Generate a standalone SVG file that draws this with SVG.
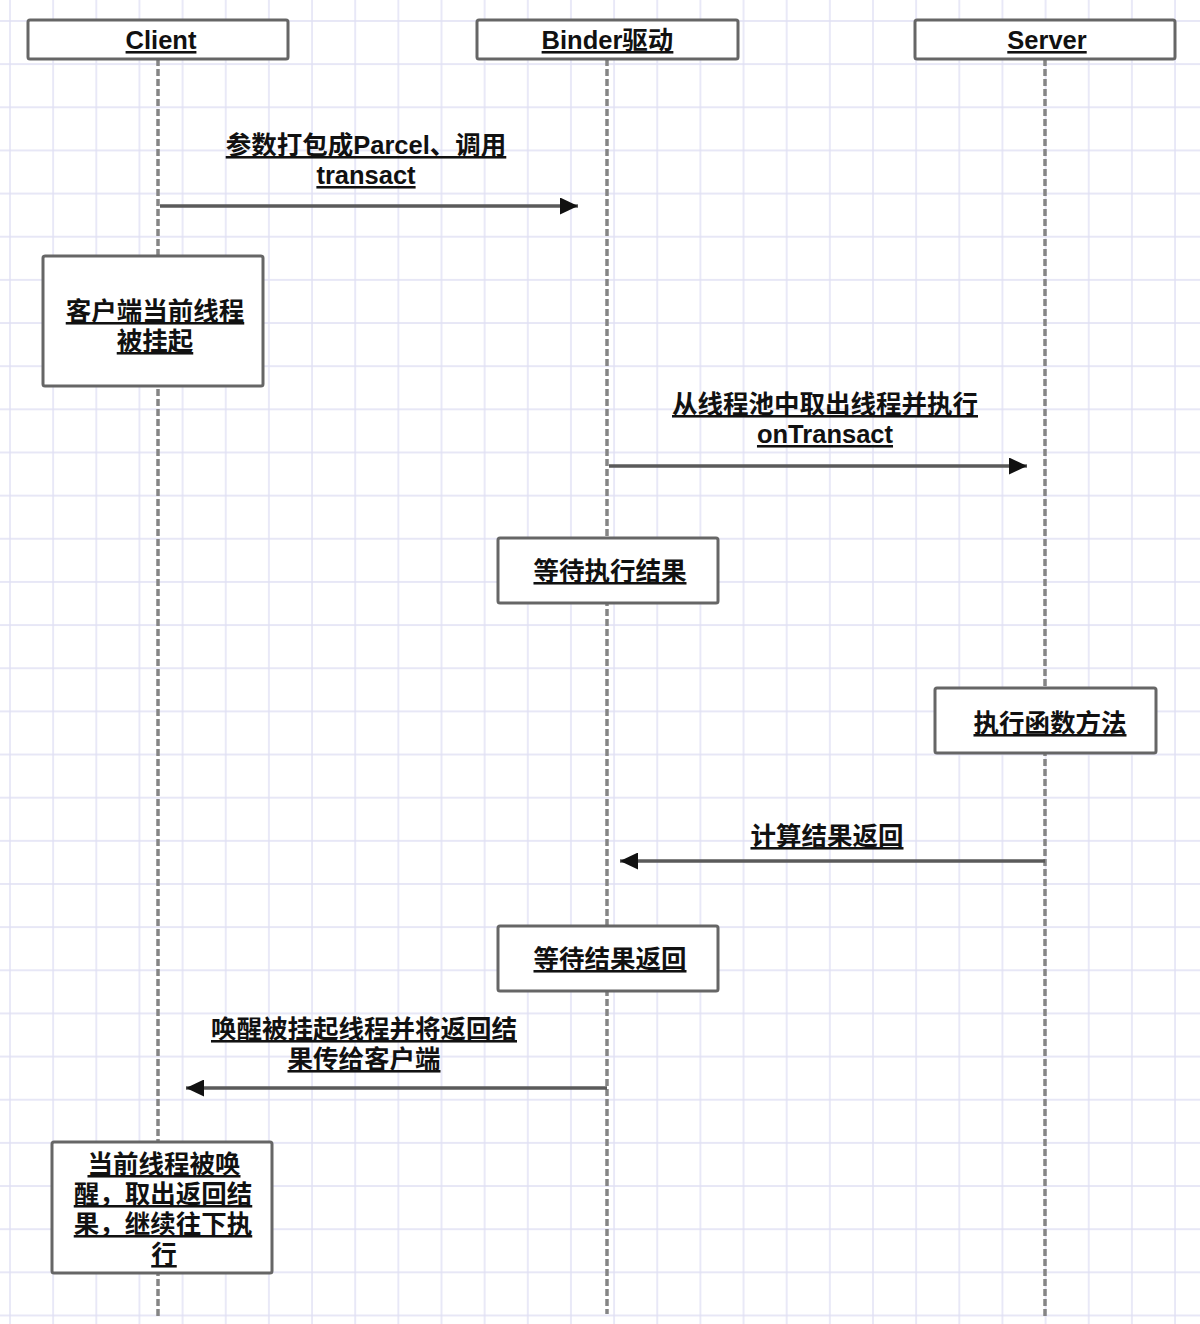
<svg xmlns="http://www.w3.org/2000/svg" width="1200" height="1324" viewBox="0 0 1200 1324">
<style>
.t{font-family:"Liberation Sans","Noto Sans CJK SC",sans-serif;font-weight:bold;font-size:25.5px;fill:#111;text-anchor:middle;text-decoration:underline;}
.box{fill:#fff;stroke:#666;stroke-width:3;}
.life{stroke:#858585;stroke-width:3.5;stroke-dasharray:7 3;fill:none;}
.msg{stroke:#5a5a5a;stroke-width:3.5;fill:none;marker-end:url(#ah);}
</style>
<defs>
<pattern id="grid" patternUnits="userSpaceOnUse" x="9" y="20" width="43.15" height="43.15">
<path d="M1 0V43.15M0 1H43.15" stroke="#e0e0f4" stroke-width="1.4" fill="none"/>
</pattern>
<marker id="ah" markerUnits="userSpaceOnUse" viewBox="0 0 18 17" refX="18" refY="8.5" markerWidth="18" markerHeight="17" orient="auto">
<path d="M0 0L18 8.5L0 17z" fill="#111"/>
</marker>
</defs>
<rect x="0" y="0" width="1200" height="1324" fill="#fff"/>
<rect x="0" y="0" width="1200" height="1324" fill="url(#grid)"/>

<g id="lifelines">
<line class="life" x1="158" y1="59" x2="158" y2="1316"/>
<line class="life" x1="607" y1="59" x2="607" y2="1314"/>
<line class="life" x1="1045" y1="59" x2="1045" y2="1316"/>
</g>

<g id="connectors">
<line class="msg" x1="160" y1="206" x2="578" y2="206"/>
<line class="msg" x1="609" y1="466" x2="1027" y2="466"/>
<line class="msg" x1="1045" y1="861" x2="620" y2="861"/>
<line class="msg" x1="607" y1="1088" x2="186" y2="1088"/>
<text class="t" x="366" y="154">参数打包成Parcel、调用<tspan x="366" y="184">transact</tspan></text>
<text class="t" x="825" y="413">从线程池中取出线程并执行<tspan x="825" y="443">onTransact</tspan></text>
<text class="t" x="827" y="845">计算结果返回</text>
<text class="t" x="364" y="1038">唤醒被挂起线程并将返回结<tspan x="364" y="1068">果传给客户端</tspan></text>
</g>

<g id="client">
<rect class="box" x="28" y="20" width="260" height="39" rx="2"/>
<text class="t" x="161" y="49">Client</text>
</g>
<g id="binder">
<rect class="box" x="477" y="20" width="261" height="39" rx="2"/>
<text class="t" x="607.5" y="49">Binder驱动</text>
</g>
<g id="server">
<rect class="box" x="915" y="20" width="260" height="39" rx="2"/>
<text class="t" x="1047" y="49">Server</text>
</g>

<g id="client-suspended">
<rect class="box" x="43" y="256" width="220" height="130" rx="2"/>
<text class="t" x="155" y="320">客户端当前线程<tspan x="155" y="350">被挂起</tspan></text>
</g>
<g id="wait-exec">
<rect class="box" x="498" y="538" width="220" height="65" rx="2"/>
<text class="t" x="610" y="580">等待执行结果</text>
</g>
<g id="exec-func">
<rect class="box" x="935" y="688" width="221" height="65" rx="2"/>
<text class="t" x="1050" y="732">执行函数方法</text>
</g>
<g id="wait-return">
<rect class="box" x="498" y="926" width="220" height="65" rx="2"/>
<text class="t" x="610" y="968">等待结果返回</text>
</g>
<g id="client-woken">
<rect class="box" x="52" y="1142" width="220" height="131" rx="2"/>
<text class="t" x="164" y="1173">当前线程被唤<tspan x="163" y="1203">醒，取出返回结</tspan><tspan x="163" y="1233">果，继续往下执</tspan><tspan x="164" y="1263">行</tspan></text>
</g>
</svg>
